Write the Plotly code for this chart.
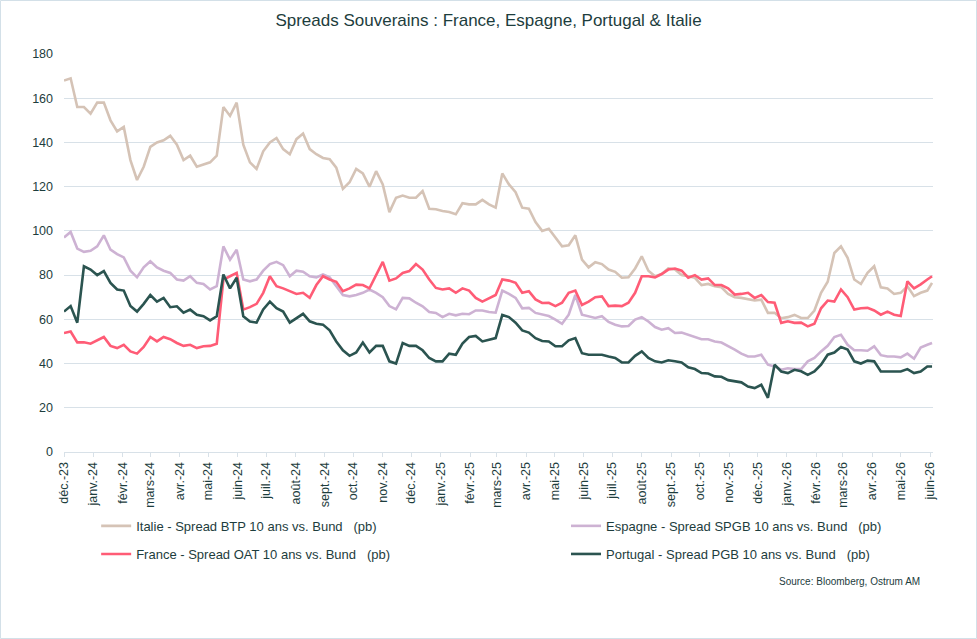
import pandas as pd
import plotly.graph_objects as go

# ---------------- data (weekly readings, bp) ----------------
start_date = "2023-12-01"
n_weeks = 131
last_date = "2026-06-03"

italie = [168, 169, 156, 156, 153, 158, 158, 150, 145, 147,
          132, 123, 129, 138, 140, 141, 143, 139, 132, 134,
          129, 130, 131, 134, 156, 152, 158, 139, 131, 128,
          136, 140, 142, 137,
          134.7, 141.5, 144, 137, 134.7, 133, 132.4, 128.6, 119, 122,
          128, 126, 120, 127, 121, 108.5, 115, 116, 115, 115,
          118, 110, 109.8, 109, 108.5, 107.5, 112.5, 112, 112, 114,
          112, 110.5, 126,
          121, 117.5, 110.5, 110, 104, 100, 101, 97, 93, 93.5,
          98, 87, 83.5, 85.8, 85, 82.5, 81.5, 78.8, 79, 83,
          88.5, 82, 79.5, 80.5, 83, 82.5, 80, 79.5, 78.8, 75.5,
          76, 75, 74.5,
          71.5, 70, 69.7, 69, 68.5, 68.9, 62.9, 63, 60.5, 61,
          62, 60.6, 60.6, 64, 72, 77, 90, 93, 87.8, 78,
          76, 81, 84, 74.5, 74, 71.5, 72, 75, 70.5, 72,
          73, 76.5]

espagne = [97, 99.5, 92, 90.5, 91, 93, 98, 91.5, 89.5, 88,
           82, 79, 83.5, 86.3, 83.5, 82, 81, 78, 77.5, 79.5,
           76.5, 76, 73.5, 75, 93, 87, 91.5, 78, 77.2, 78,
           82, 85, 86, 84.5,
           79.5, 82, 81.5, 79.5, 79, 80.3, 79, 75, 71, 70.4,
           71, 72, 73.5, 72, 70, 66, 64.5, 69.7, 69.5, 67.5,
           65.9, 63.3, 62.9, 61, 62.5, 61.8, 62.5, 62.3, 64, 64,
           63.3, 63, 73,
           71.5, 69.7, 65, 65.2, 62.9, 62.1, 61.5, 59.9, 58, 62.1,
           71, 62.1, 61.4, 60.6, 61.4, 58.8, 57.6, 56.8, 57, 59.9,
           61, 59, 56.5, 55.3, 56, 53.8, 54, 53, 52.3, 51,
           51, 50, 49.5,
           48, 46.3, 44.5, 43.2, 43.2, 44, 39.5, 38.7, 37.2, 37.9,
           37.5, 37.5, 41, 42.5, 45.5, 48, 52, 53, 48.5, 46,
           46, 45.8, 47.8, 43.8, 43.2, 43.2, 42.8, 44.5, 42.2, 47.2,
           48.5, 49.3]

france = [53.8, 54.5, 49.6, 49.6, 49, 50.5, 52, 48, 47, 48.5,
          45.5, 44.5, 47.5, 52, 50, 52, 51, 49.3, 48, 48.5,
          47, 47.8, 48, 49, 78, 79.5, 81, 64.4, 65.5, 67,
          72, 79.5, 75, 74,
          72.7, 71.5, 72, 69.7, 75.5, 79.5, 78, 77, 72.7, 74,
          75.7, 75.5, 74, 80, 86, 77.5, 78.5, 81, 81.8, 85,
          82.5, 78, 74.2, 73.5, 74, 72, 74, 73, 69.7, 68,
          69.5, 71, 78,
          77.5, 76.5, 72, 72.7, 69, 67.4, 67.5, 66, 67.5, 72,
          73, 66.5, 68, 70, 70.4, 66, 66.2, 66, 67.5, 72,
          79.5, 79.5, 79, 80.5, 82.5, 83, 82, 78.8, 80, 78,
          78.5, 75.5, 75.5,
          74, 71.2, 71.5, 72, 69.7, 71, 67.8, 67.5, 58.4, 59.1,
          58.4, 58.5, 56.8, 58, 65, 68.5, 68, 73.5, 70, 64.4,
          65, 65.2, 64, 62.1, 63.5, 62.1, 61.5, 77.2, 74, 75.8,
          78, 79.5]

portugal = [63.5, 66, 58.5, 84, 82.5, 80, 81.8, 76.5, 73.5, 73,
            66, 63.5, 67, 71, 68, 69.7, 65.5, 65.9, 63, 64.4,
            62.1, 61.4, 59.5, 61.4, 80.3, 74, 78.8, 61.4, 59, 58.5,
            64.5, 68, 65, 63.5,
            58.5, 60.5, 62.5, 59.1, 58, 57.6, 55, 50, 46, 43.5,
            45, 49.5, 45, 48, 48, 41, 40, 49.3, 48, 48,
            46, 42.5, 41, 41, 44.5, 44, 49, 52, 52.5, 50,
            50.8, 51.5, 62,
            61, 58.5, 55, 54, 51.5, 50.2, 50, 47.8, 47.8, 50.5,
            51.5, 44.7, 44, 44, 44, 43.2, 42.5, 40.5, 40.5, 43.5,
            45.5, 42.5, 41, 40.5, 41.5, 41, 40.5, 38.3, 37.5, 35.7,
            35.5, 34.2, 34,
            32.5, 32, 31.5, 29.6, 28.9, 30.4, 24.5, 39.5, 36.4, 35.7,
            37.2, 36.5, 34.9, 36.4, 39.5, 44, 45, 47.5, 46.3, 41,
            40, 41.3, 41, 36.4, 36.4, 36.4, 36.4, 37.5, 35.7, 36.4,
            38.7, 38.7]

tick_dates = pd.date_range("2023-12-01", "2026-06-01", freq="MS")
tick_labels = ["déc.-23", "janv.-24", "févr.-24", "mars-24", "avr.-24", "mai-24",
               "juin-24", "juil.-24", "août-24", "sept.-24", "oct.-24", "nov.-24",
               "déc.-24", "janv.-25", "févr.-25", "mars-25", "avr.-25", "mai-25",
               "juin-25", "juil.-25", "août-25", "sept.-25", "oct.-25", "nov.-25",
               "déc.-25", "janv.-26", "févr.-26", "mars-26", "avr.-26", "mai-26",
               "juin-26"]

series_names = ["Italie - Spread BTP 10 ans vs. Bund\u00a0\u00a0\u00a0(pb)",
                "Espagne - Spread SPGB 10 ans vs. Bund\u00a0\u00a0\u00a0(pb)",
                "France - Spread OAT 10 ans vs. Bund\u00a0\u00a0\u00a0(pb)",
                "Portugal - Spread PGB 10 ans vs. Bund\u00a0\u00a0\u00a0(pb)"]
y_ticks = [0, 20, 40, 60, 80, 100, 120, 140, 160, 180]

# ---------------- figure ----------------
dates = list(pd.date_range(start_date, periods=n_weeks, freq="7D")) + [pd.Timestamp(last_date)]

colors = ["#d5c3b6", "#cdb2d3", "#ff5c76", "#2b5450"]
legend_ids = ["legend", "legend2", "legend3", "legend4"]
values = [italie, espagne, france, portugal]

fig = go.Figure()
for name, vals, col, lg in zip(series_names, values, colors, legend_ids):
    fig.add_trace(go.Scatter(x=dates, y=vals, mode="lines", name=name,
                             line=dict(color=col, width=2.6), legend=lg))

text_col = "#1d3d3d"
grid_col = "#d8e1e8"
font_fam = "Liberation Sans, Arial, sans-serif"

col_x = [0.037, 0.5777]
row_y = [-0.148, -0.2186]


def legend_box(cx, ry):
    return dict(orientation="h", x=cx, xanchor="left", y=ry, yanchor="top",
                font=dict(size=13, color=text_col), itemwidth=30,
                bgcolor="rgba(0,0,0,0)")


fig.update_layout(
    width=977, height=639,
    margin=dict(l=64, r=44, t=54, b=187),
    paper_bgcolor="white", plot_bgcolor="white",
    font=dict(family=font_fam, color=text_col, size=12),
    title=dict(text="Spreads Souverains : France, Espagne, Portugal & Italie",
               x=0.5, xanchor="center", y=1 - 20 / 639, yanchor="middle",
               font=dict(size=17, color=text_col)),
    showlegend=True,
    legend=legend_box(col_x[0], row_y[0]),
    legend2=legend_box(col_x[1], row_y[0]),
    legend3=legend_box(col_x[0], row_y[1]),
    legend4=legend_box(col_x[1], row_y[1]),
    xaxis=dict(type="date", range=["2023-12-01", "2026-06-04"],
               tickvals=list(tick_dates), ticktext=tick_labels, tickangle=-90,
               showgrid=False, showline=True, linecolor=grid_col, linewidth=1,
               ticks="outside", ticklen=4, tickcolor=grid_col,
               tickfont=dict(size=12.5, color=text_col), zeroline=False),
    yaxis=dict(range=[0, 180], tickvals=y_ticks, showgrid=True, gridcolor=grid_col,
               gridwidth=1, zeroline=False, showline=False, ticks="",
               ticklabelstandoff=10, tickfont=dict(size=12.5, color=text_col)),
)

fig.add_annotation(text="Source: Bloomberg, Ostrum AM", xref="paper", yref="paper",
                   x=0.9873, xanchor="right", y=-0.3266, yanchor="middle",
                   showarrow=False, font=dict(size=10, color=text_col))

# outer frame around the whole chart
fig.add_shape(type="rect", xref="paper", yref="paper",
              x0=(0.5 - 64) / 869, x1=(976.5 - 64) / 869,
              y0=(452 - 638.5) / 398, y1=(452 - 0.5) / 398,
              line=dict(color="#d3e0e8", width=1), fillcolor="rgba(0,0,0,0)", layer="below")

fig.write_html("out.html")
